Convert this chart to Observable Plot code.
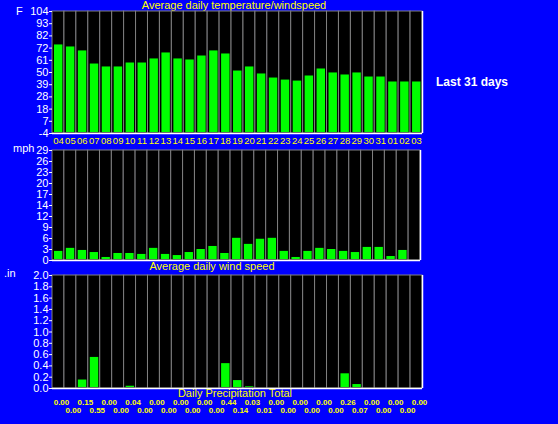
<!DOCTYPE html>
<html>
<head>
<meta charset="utf-8">
<script src="https://cdn.jsdelivr.net/npm/d3@7"></script>
<script src="https://cdn.jsdelivr.net/npm/@observablehq/plot@0.6"></script>
<style>
  html, body { margin: 0; padding: 0; background: #0000ff; }
  #wrap { position: relative; width: 558px; height: 424px; background: #0000ff; overflow: hidden; font-family: "Liberation Sans", Arial, sans-serif; }
  #wrap svg { position: absolute; left: 0; }
  .lbl { position: absolute; white-space: nowrap; line-height: 11px; font-size: 11px; }
  .title { color: #ffff00; transform: translateX(-50%); }
  .unit { color: #ffffff; }
</style>
</head>
<body>
<div id="wrap">
  <div class="lbl title" style="left:234px; top:0px;">Average daily temperature/windspeed</div>
  <div class="lbl title" style="left:212px; top:261px;">Average daily wind speed</div>
  <div class="lbl title" style="left:235px; top:388px;">Daily Precipitation Total</div>
  <div class="lbl unit" style="left:16px; top:6px;">F</div>
  <div class="lbl unit" style="left:13px; top:143px;">mph</div>
  <div class="lbl unit" style="left:4px; top:268px;">.in</div>
  <div class="lbl unit" style="left:436px; top:76px; font-size:12px; line-height:12px; font-weight:bold;">Last 31 days</div>
</div>
<script>
const days = ["04","05","06","07","08","09","10","11","12","13","14","15","16","17","18","19","20","21","22","23","24","25","26","27","28","29","30","31","01","02","03"];
const temperature = [74.4,72.6,69.1,57.5,54.9,54.9,58.4,58.4,62.0,67.3,62.0,61.1,64.6,69.1,66.4,51.3,54.9,48.7,45.1,43.3,42.4,46.9,53.1,49.6,47.8,49.6,46.0,46.0,41.6,41.6,41.6];
const windSpeed = [2.4,3.2,2.65,2.1,0.8,1.85,1.85,1.6,3.2,1.6,1.3,2.1,2.9,3.7,1.85,5.85,4.25,5.6,5.85,2.4,0.8,2.4,3.2,2.9,2.4,2.1,3.45,3.45,1.05,2.65,0];
const precipitation = [0.00,0.00,0.15,0.55,0.00,0.00,0.04,0.00,0.00,0.00,0.00,0.00,0.00,0.00,0.44,0.14,0.03,0.01,0.00,0.00,0.00,0.00,0.00,0.00,0.26,0.07,0.00,0.00,0.00,0.00,0.00];
const tempTickLabels = ["-4","7","18","28","39","50","61","72","82","93","104"];
const windTickLabels = ["0","3","6","9","12","14","17","20","23","26","29"];
const precipTickLabels = ["0.0","0.2","0.4","0.6","0.8","1.0","1.2","1.4","1.6","1.8","2.0"];

const wrap = document.getElementById("wrap");

function panel({values, domain, tickLabels, top, height, marginTop, marginBottom, marginRight, extra}) {
  const rows = days.map((d, i) => ({day: d, i, v: values[i]}));
  const [lo, hi] = domain;
  const step = (hi - lo) / (tickLabels.length - 1);
  const ticks = tickLabels.map((_, i) => lo + i * step);
  const svg = Plot.plot({
    width: 558,
    height,
    marginLeft: 52,
    marginRight,
    marginTop,
    marginBottom,
    style: {background: "transparent", color: "white", fontFamily: "Liberation Sans, Arial, sans-serif", fontSize: "11px", overflow: "visible"},
    x: {type: "linear", domain: [0, days.length], axis: null},
    y: {domain, axis: null},
    marks: [
      Plot.rectY(rows, {x1: "i", x2: d => d.i + 1, y1: lo, y2: hi, fill: "black", stroke: "#808080", strokeWidth: 1}),
      Plot.rectY(rows.filter(d => d.v > 0), {x1: "i", x2: d => d.i + 1, y1: lo, y2: "v", fill: "#00ff00", insetLeft: 2, insetRight: 1.5, insetBottom: 1}),
      Plot.ruleY([lo], {stroke: "white", strokeWidth: 1.5}),
      Plot.ruleX([days.length], {stroke: "white", strokeWidth: 1.5}),
      Plot.axisY(ticks, {anchor: "left", label: null, tickSize: 3, tickPadding: 1, stroke: "white", fill: "white", fontSize: 11,
        tickFormat: d => tickLabels[Math.round((d - lo) / step)]}),
      ...(extra ? extra(rows) : [])
    ]
  });
  svg.style.top = top + "px";
  wrap.appendChild(svg);
}

// Temperature panel
panel({
  values: temperature, domain: [-4, 104], tickLabels: tempTickLabels,
  top: 0, height: 150, marginTop: 11, marginBottom: 17, marginRight: 136,
  extra: rows => [
    Plot.text(rows, {x: d => d.i + 0.5, text: "day", frameAnchor: "bottom", dy: 10, fill: "#ffff00", fontSize: 9.5})
  ]
});

// Wind panel
panel({
  values: windSpeed, domain: [0, 29], tickLabels: windTickLabels,
  top: 140, height: 125, marginTop: 10, marginBottom: 5, marginRight: 138
});

// Precipitation panel
panel({
  values: precipitation, domain: [0, 2], tickLabels: precipTickLabels,
  top: 265, height: 159, marginTop: 10, marginBottom: 36, marginRight: 136,
  extra: rows => [
    Plot.text(rows.filter(d => d.i % 2 === 0), {x: d => d.i + 0.5, text: d => d.v.toFixed(2), frameAnchor: "bottom", dy: 16, dx: 3, fill: "#ffff00", fontSize: 8, fontWeight: "bold"}),
    Plot.text(rows.filter(d => d.i % 2 === 1), {x: d => d.i + 0.5, text: d => d.v.toFixed(2), frameAnchor: "bottom", dy: 24, dx: 3, fill: "#ffff00", fontSize: 8, fontWeight: "bold"})
  ]
});
</script>
</body>
</html>
